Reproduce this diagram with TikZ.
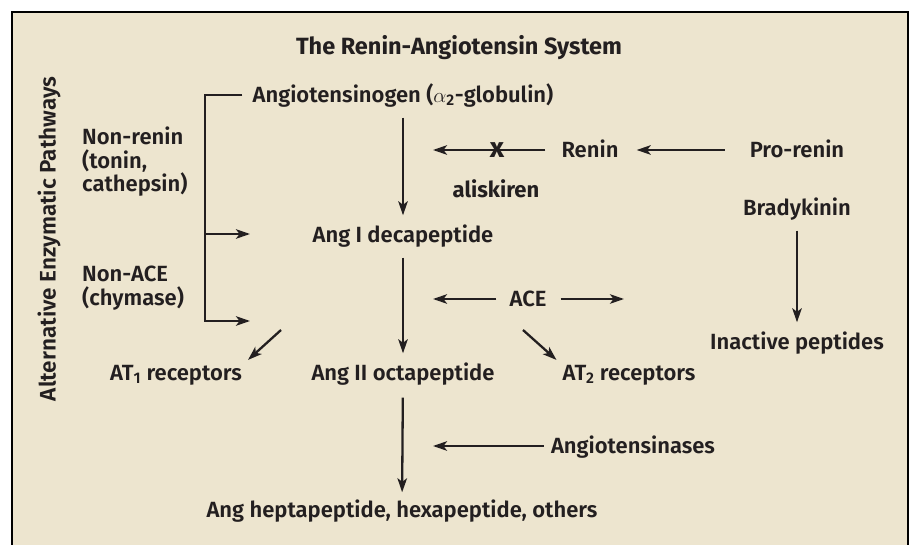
\documentclass[tikz,border=0pt]{standalone}
\usepackage{fontspec}
\setmainfont{Fira Sans}[UprightFont={* SemiBold}, BoldFont={* Bold}]
\usetikzlibrary{positioning, calc, arrows.meta}
\definecolor{rasBg}{RGB}{237, 229, 207}
\definecolor{rasInk}{RGB}{35, 31, 32}

\begin{document}
\begin{tikzpicture}[
    x=1pt, y=-1pt,
    lbl/.style={font=\fontsize{22}{25}\selectfont, text=rasInk, inner sep=0pt,
                text height=15pt, text depth=0pt},
    boldlbl/.style={lbl, font=\fontsize{22}{25}\selectfont\bfseries},
    side/.style={font=\fontsize{22}{23.5}\selectfont, text=rasInk, inner sep=0pt,
                 align=left, anchor=north west},
    arrow/.style={-{Stealth[length=14pt, width=9.5pt, inset=3.5pt]},
                  line width=2.3pt, draw=rasInk},
    vline/.style={arrow, shorten <=15pt, shorten >=12pt},
    frame/.style={line width=2.4pt, draw=black},
  ]
    \useasboundingbox (0,0) rectangle (913,545);
    % Panel
    \fill[white] (0,0) rectangle (913,545);
    \fill[rasBg] (12,12) rectangle (908,545);
    \draw[frame] (12,545) -- (12,12) -- (908,12) -- (908,545);

    % Title and side label
    \node[lbl, text height=16pt, font=\fontsize{23.5}{27}\selectfont\bfseries] (title) at (459,47)
      {The Renin-Angiotensin System};
    \node[lbl, rotate=90, font=\fontsize{22.5}{25}\selectfont] (alt) at (48,239)
      {Alternative Enzymatic Pathways};

    % Main cascade
    \node[lbl] (agt)   at (403,95)  {Angiotensinogen ($\alpha$\textsubscript{2}-globulin)};
    \node[lbl] (angI)  at (403,235) {Ang I decapeptide};
    \node[lbl] (angII) at (403,373) {Ang II octapeptide};
    \node[lbl] (hepta) at (402,510) {Ang heptapeptide, hexapeptide, others};
    \draw[vline] (agt) -- (angI);
    \draw[vline] (angI) -- (angII);
    \draw[arrow, shorten <=17pt, shorten >=10pt] (angII) -- (hepta);

    % Renin branch
    \node[lbl] (renin)    at (590,150) {Renin};
    \node[lbl] (prorenin) at (797,150) {Pro-renin};
    \coordinate (reninEnd) at (433,150);
    \draw[arrow, shorten <=16pt] (renin) -- (reninEnd);
    \node[boldlbl, font=\fontsize{28}{30}\selectfont\bfseries] (block) at (497,150) {x};
    \node[boldlbl] (alisk) at (496,190) {aliskiren};
    \draw[arrow, shorten <=25pt, shorten >=18pt] (prorenin) -- (renin);

    % Bradykinin
    \node[lbl] (brady)    at (797,208) {Bradykinin};
    \node[lbl] (inactive) at (797,342) {Inactive peptides};
    \draw[vline] (brady) -- (inactive);

    % ACE
    \node[lbl] (ace) at (528,299) {ACE};
    \coordinate (aceL) at (433,299);
    \coordinate (aceR) at (624,299);
    \draw[arrow, shorten <=13pt] (ace) -- (aceL);
    \draw[arrow, shorten <=14pt] (ace) -- (aceR);

    % Receptors
    \node[lbl] (at1) at (176,373) {AT\textsubscript{1} receptors};
    \node[lbl] (at2) at (629,373) {AT\textsubscript{2} receptors};
    \coordinate (at1From) at (281,330);
    \coordinate (at2From) at (523,330);
    \draw[arrow, shorten >=8pt] (at1From) -- (at1.north east);
    \draw[arrow, shorten >=8pt] (at2From) -- (at2.north west);

    % Angiotensinases
    \node[lbl] (angase) at (633,446) {Angiotensinases};
    \coordinate (angaseEnd) at (433,446);
    \draw[arrow, shorten <=7pt] (angase) -- (angaseEnd);

    % Alternative pathways
    \node[side] (nonrenin) at (82,127) {Non-renin\\(tonin,\\cathepsin)};
    \node[side] (nonace)   at (82,266) {Non-ACE\\(chymase)};
    \coordinate (brMid) at (205,234);
    \coordinate (brBot) at (205,321);
    \coordinate (in1) at (250,234);
    \coordinate (in2) at (250,321);
    \draw[arrow] ([xshift=-10pt]agt.west) -| (brBot) -- (in2);
    \draw[arrow] (brMid) -- (in1);
  \end{tikzpicture}
\end{document}
